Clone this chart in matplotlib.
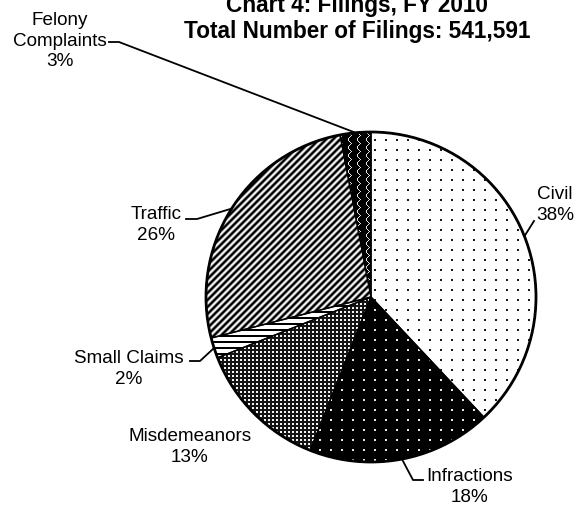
import numpy as np
import matplotlib

matplotlib.use("Agg")
import matplotlib.pyplot as plt

# %% data
categories = ["Civil", "Infractions", "Misdemeanors", "Small Claims", "Traffic", "Felony\nComplaints"]
shares = [38, 18, 13, 2, 26, 3]
title_lines = ["Chart 4: Filings, FY 2010", "Total Number of Filings: 541,591"]

# %% layout (pixel units, y measured from the top of the picture)
W, H = 581, 510
pie_center = (371, 298)
pie_radius = 165
patterns = ["sparse_dots", "dark_dots", "fine_grid", "h_stripes", "diag_stripes", "dark_waves"]
label_pos = [(555, 205), (470, 487), (190, 447), (129, 369), (156, 225), (60, 41)]
# points of each leader line on the label side (None = no leader)
leader_pts = [
    [(534, 222)],
    [(423, 481), (413, 481)],
    None,
    [(190, 362), (200, 362)],
    [(186, 220), (197, 220)],
    [(109, 43), (119, 43)],
]

plt.rcParams["font.family"] = ["Liberation Sans", "DejaVu Sans"]

fig = plt.figure(figsize=(W / 100, H / 100), dpi=100)
ax = fig.add_axes([0, 0, 1, 1])


def px(x, y):
    """picture pixel -> data coordinates (y flipped)"""
    return x, H - y


def texture(kind):
    """grey-level fill pattern over the whole picture"""
    yy, xx = np.mgrid[0:H, 0:W]
    if kind == "sparse_dots":
        img = np.ones((H, W))
        img[(xx % 11 < 2) & (yy % 10 < 2)] = 0.1
    elif kind == "dark_dots":
        img = np.zeros((H, W))
        img[(xx % 11 < 2) & (yy % 10 < 2)] = 0.9
    elif kind == "fine_grid":
        img = np.full((H, W), 0.08)
        img[(xx % 4 < 2) & (yy % 4 < 2)] = 0.95
    elif kind == "h_stripes":
        img = np.ones((H, W))
        img[yy % 6 < 2] = 0.0
    elif kind == "diag_stripes":
        img = 0.45 + 0.55 * np.cos(2 * np.pi * (xx + yy) / 7)
        img = np.clip(img, 0, 1)
    else:  # dark_waves
        img = np.zeros((H, W))
        wave = np.round(3 * np.abs(np.sin(np.pi * yy / 8))).astype(int)
        img[(xx + wave) % 9 == 0] = 0.9
    return img


cx, cy = px(*pie_center)
wedges, _ = ax.pie(
    shares,
    center=(cx, cy),
    radius=pie_radius,
    startangle=90,
    counterclock=False,
    wedgeprops=dict(facecolor="none", edgecolor="black", linewidth=1.0, zorder=3),
)

for wedge, kind in zip(wedges, patterns):
    im = ax.imshow(
        texture(kind),
        cmap="gray",
        vmin=0,
        vmax=1,
        interpolation="nearest",
        extent=(0, W, 0, H),
        origin="upper",
        zorder=1,
    )
    im.set_clip_path(wedge)

ax.add_patch(plt.Circle((cx, cy), pie_radius, fill=False, edgecolor="black", linewidth=2, zorder=4))

# labels and leader lines
for wedge, name, share, pos, pts in zip(wedges, categories, shares, label_pos, leader_pts):
    ax.text(*px(*pos), f"{name}\n{share}%", ha="center", va="center", fontsize=13.6, linespacing=1.3)
    if pts is None:
        continue
    mid = np.deg2rad((wedge.theta1 + wedge.theta2) / 2)
    anchor = (cx + pie_radius * np.cos(mid), cy + pie_radius * np.sin(mid))
    line = [px(*p) for p in pts] + [anchor]
    ax.plot([p[0] for p in line], [p[1] for p in line], color="black", linewidth=1.3, zorder=5)

ax.text(*px(357, 12), title_lines[0], ha="center", va="baseline", fontsize=16.3, fontweight="bold")
ax.text(*px(357, 38), title_lines[1], ha="center", va="baseline", fontsize=16.3, fontweight="bold")

ax.set_xlim(0, W)
ax.set_ylim(0, H)
ax.set_aspect("auto")
ax.axis("off")

fig.savefig("out.png", dpi=100, facecolor="white")
